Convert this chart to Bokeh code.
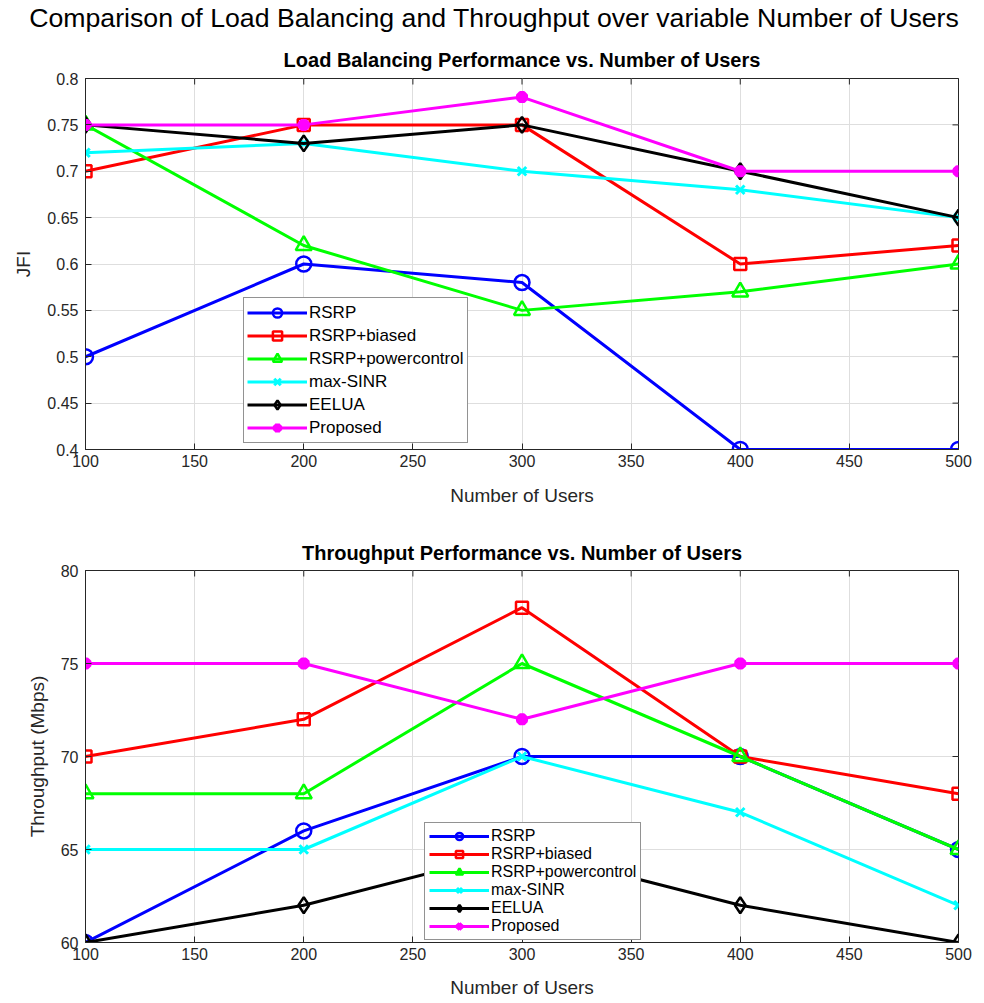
import math
from bokeh.plotting import figure
from bokeh.layouts import column
from bokeh.models import (Legend, LegendItem, Title, FixedTicker, Div,
                          CustomJSTickFormatter, Range1d)
from bokeh.embed import file_html
from bokeh.resources import INLINE

users = [100, 200, 300, 400, 500]
series_names = ["RSRP", "RSRP+biased", "RSRP+powercontrol", "max-SINR", "EELUA", "Proposed"]

jfi_rsrp = [0.50, 0.60, 0.58, 0.40, 0.40]
jfi_biased = [0.70, 0.75, 0.75, 0.60, 0.62]
jfi_power = [0.75, 0.62, 0.55, 0.57, 0.60]
jfi_maxsinr = [0.72, 0.73, 0.70, 0.68, 0.65]
jfi_eelua = [0.75, 0.73, 0.75, 0.70, 0.65]
jfi_proposed = [0.75, 0.75, 0.78, 0.70, 0.70]

thr_rsrp = [60, 66, 70, 70, 65]
thr_biased = [70, 72, 78, 70, 68]
thr_power = [68, 68, 75, 70, 65]
thr_maxsinr = [65, 65, 70, 67, 62]
thr_eelua = [60, 62, 65, 62, 60]
thr_proposed = [75, 75, 72, 75, 75]

x_ticks = [100, 150, 200, 250, 300, 350, 400, 450, 500]
jfi_ticks = [0.4, 0.45, 0.5, 0.55, 0.6, 0.65, 0.7, 0.75, 0.8]
thr_ticks = [60, 65, 70, 75, 80]

main_title = "Comparison of Load Balancing and Throughput over variable Number of Users"
top_title = "Load Balancing Performance vs. Number of Users"
bot_title = "Throughput Performance vs. Number of Users"

colors = ["#0000ff", "#ff0000", "#00ff00", "#00ffff", "#000000", "#ff00ff"]
markers = ["circle", "square", "triangle", "x", "diamond", "asterisk"]
msizes = [15, 12, 16, 12, 16, 12]
mwidths = [2.5, 2.5, 2.5, 3, 2.5, 4.5]

FONT = "Liberation Sans"
AX = "#262626"


def make_fig(height, y_range, yticks, ylabel, title, mb_top, mb_bottom, ylabel_standoff,
             title_standoff, xlabel_standoff):
    p = figure(width=976, height=height, output_backend="svg", toolbar_location=None,
               x_range=Range1d(100, 500), y_range=Range1d(*y_range),
               min_border_left=85, min_border_right=18,
               min_border_top=mb_top, min_border_bottom=mb_bottom,
               title=None)
    p.outline_line_color = AX
    p.outline_line_width = 1
    p.background_fill_color = "white"
    p.border_fill_color = "white"
    p.xaxis.ticker = FixedTicker(ticks=x_ticks)
    p.yaxis.ticker = FixedTicker(ticks=yticks)
    p.yaxis.formatter = CustomJSTickFormatter(code="return String(Math.round(tick*100)/100);")
    for ax in (p.xaxis[0], p.yaxis[0]):
        ax.major_tick_in = 6
        ax.major_tick_out = 0
        ax.minor_tick_in = 0
        ax.minor_tick_out = 0
        ax.axis_line_color = AX
        ax.major_tick_line_color = AX
        ax.major_label_text_font = FONT
        ax.major_label_text_font_size = "16px"
        ax.major_label_text_color = AX
        ax.axis_label_text_font = FONT
        ax.axis_label_text_font_size = "19px"
        ax.axis_label_text_font_style = "normal"
        ax.axis_label_text_color = AX
    p.xaxis.major_label_standoff = 5
    p.yaxis.major_label_standoff = 7
    p.xaxis.axis_label = "Number of Users"
    p.xaxis.axis_label_standoff = xlabel_standoff
    p.yaxis.axis_label = ylabel
    p.yaxis.axis_label_standoff = ylabel_standoff
    p.grid.grid_line_color = "#dedede"
    p.grid.grid_line_width = 1
    # box ticks on the top and right edges (clipped to the frame, so half shows inside)
    p.scatter(x=x_ticks, y=[y_range[1]] * len(x_ticks), marker="dash", angle=math.pi / 2,
              size=12, line_color=AX, line_width=1)
    p.scatter(x=[x_ticks[-1]] * len(yticks), y=yticks, marker="dash",
              size=12, line_color=AX, line_width=1)
    p.add_layout(Title(text=title, align="center", text_font=FONT, text_font_size="20px",
                       text_font_style="bold", text_color="black", standoff=title_standoff),
                 "above")
    return p


def add_series(p, ys_list, legend_loc, row_h, padding, spacing, font_size):
    items = []
    for name, ys, c, m, s, w in zip(series_names, ys_list, colors, markers, msizes, mwidths):
        r1 = p.line(users, ys, line_color=c, line_width=3)
        r2 = p.scatter(users, ys, marker=m, size=s, line_color=c, line_width=w,
                       fill_color=c if m == "asterisk" else None)
        items.append(LegendItem(label=name, renderers=[r1, r2]))
    leg = Legend(items=items, location=legend_loc, label_text_font=FONT,
                 label_text_font_size=font_size, label_text_color="black",
                 glyph_width=60, glyph_height=row_h, label_height=row_h, spacing=spacing,
                 padding=padding, margin=0, label_standoff=2,
                 border_line_color=AX, border_line_width=1,
                 background_fill_color="white", background_fill_alpha=1.0)
    p.add_layout(leg, "center")


header = Div(text=main_title, width=964, height=38, margin=(0, 0, 0, 12),
             styles={"text-align": "center", "font-family": FONT, "font-size": "26.7px",
                     "line-height": "36px", "color": "black", "white-space": "nowrap",
                     "width": "964px"})

p1 = make_fig(482, (0.4, 0.8), jfi_ticks, "JFI", top_title, 40, 71, 10, 16, 15)
add_series(p1, [jfi_rsrp, jfi_biased, jfi_power, jfi_maxsinr, jfi_eelua, jfi_proposed],
           (158, 6), 23, 3, 0, "17px")

p2 = make_fig(483, (60, 80), thr_ticks, "Throughput (Mbps)", bot_title, 50, 61, 10, 14, 14)
add_series(p2, [thr_rsrp, thr_biased, thr_power, thr_maxsinr, thr_eelua, thr_proposed],
           (339, 2), 18, 4, 0, "16px")

layout = column(header, p1, p2, spacing=0)
open("out.html", "w").write(file_html(layout, INLINE))
